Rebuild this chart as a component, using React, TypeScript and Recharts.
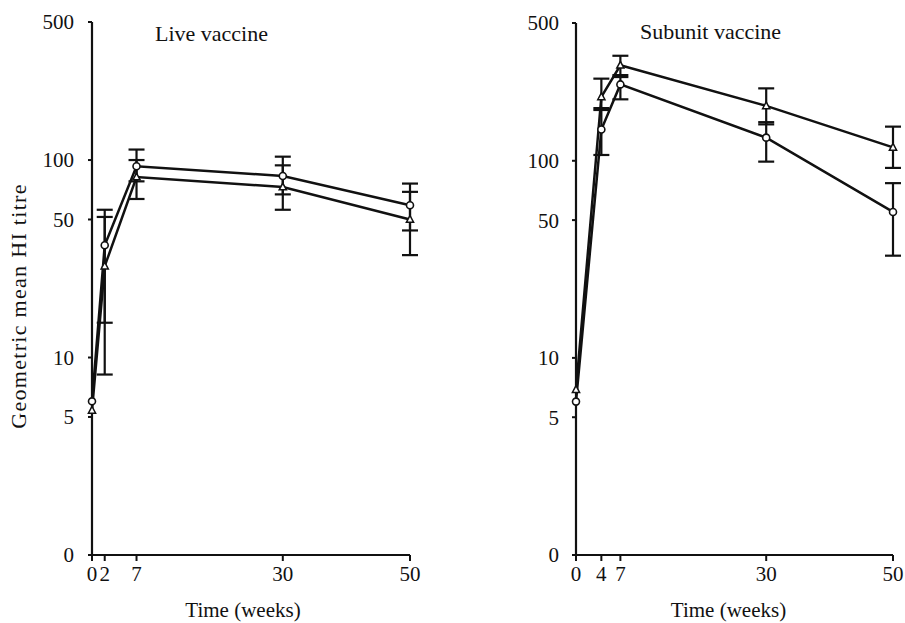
import { LineChart, Line, XAxis, YAxis, ErrorBar } from "recharts";

const INK = "#111";
const FONT = "'Liberation Serif', 'DejaVu Serif', serif";

// y values are titres on a log scale; the bottom tick (1) is printed as "0"
const Y_TICKS = [1, 5, 10, 50, 100, 500];

// Live vaccine panel
const LIVE_WEEKS = [0, 2, 7, 30, 50];
const LIVE_CIRCLE_MEAN = [6, 37, 93, 83, 59];
const LIVE_CIRCLE_LO = [null, 15, 78, 67, 44];
const LIVE_CIRCLE_HI = [null, 56, 113, 104, 76];
const LIVE_TRI_MEAN = [5.4, 29, 82, 73, 50];
const LIVE_TRI_LO = [null, 8.2, 63.5, 56, 33];
const LIVE_TRI_HI = [null, 51.5, 100, 94, 69];

// Subunit vaccine panel
const SUB_WEEKS = [0, 4, 7, 30, 50];
const SUB_TRI_MEAN = [6.9, 211, 305, 190, 117];
const SUB_TRI_LO = [null, 181, 266, 153, 92];
const SUB_TRI_HI = [null, 261, 341, 233, 149];
const SUB_CIRCLE_MEAN = [6.0, 144, 244, 131, 55];
const SUB_CIRCLE_LO = [null, 107, 205, 99, 33];
const SUB_CIRCLE_HI = [null, 185, 272, 157, 77];

type Row = { week: number; circ: number; circErr: number[] | null; tri: number; triErr: number[] | null };

const err = (m: number, lo: number | null, hi: number | null) =>
  lo == null || hi == null ? null : [m - lo, hi - m];

function build(
  weeks: number[],
  cm: number[], cl: (number | null)[], ch: (number | null)[],
  tm: number[], tl: (number | null)[], th: (number | null)[],
): Row[] {
  return weeks.map((w, i) => ({
    week: w,
    circ: cm[i],
    circErr: err(cm[i], cl[i], ch[i]),
    tri: tm[i],
    triErr: err(tm[i], tl[i], th[i]),
  }));
}

const liveData = build(LIVE_WEEKS, LIVE_CIRCLE_MEAN, LIVE_CIRCLE_LO, LIVE_CIRCLE_HI, LIVE_TRI_MEAN, LIVE_TRI_LO, LIVE_TRI_HI);
const subData = build(SUB_WEEKS, SUB_CIRCLE_MEAN, SUB_CIRCLE_LO, SUB_CIRCLE_HI, SUB_TRI_MEAN, SUB_TRI_LO, SUB_TRI_HI);

const circleDot = (p: any) => (
  <circle key={`c${p.index}`} cx={p.cx} cy={p.cy} r={3.5} fill="#fff" stroke={INK} strokeWidth={1.6} />
);
const triDot = (p: any) => (
  <path
    key={`t${p.index}`}
    d={`M${p.cx},${p.cy - 4} L${p.cx + 3.6},${p.cy + 2.8} L${p.cx - 3.6},${p.cy + 2.8} Z`}
    fill="#fff" stroke={INK} strokeWidth={1.5}
  />
);

const tickStyle = { fill: INK, fontSize: 21, fontFamily: FONT };

function Panel({ data, weeks, width, margin, yWidth, tickMargin, xLabelDx }: {
  data: Row[]; weeks: number[]; width: number;
  margin: { top: number; right: number; bottom: number; left: number };
  yWidth: number; tickMargin: number; xLabelDx: number;
}) {
  return (
    <LineChart width={width} height={623} data={data} margin={margin}>
      <XAxis
        dataKey="week" type="number" domain={[0, 50]} ticks={weeks} interval={0}
        stroke={INK} strokeWidth={2.2} tickSize={6} tickMargin={5} height={68}
        tick={tickStyle} tickLine={{ stroke: INK, strokeWidth: 2 }}
        label={{ value: "Time (weeks)", position: "insideBottom", offset: 6, dx: xLabelDx, fill: INK, fontSize: 21, fontFamily: FONT }}
      />
      <YAxis
        type="number" scale="log" domain={[1, 500]} ticks={Y_TICKS} allowDataOverflow interval={0}
        width={yWidth} stroke={INK} strokeWidth={2.2} tickSize={4} tickMargin={tickMargin}
        tick={tickStyle} tickLine={{ stroke: INK, strokeWidth: 2 }}
        tickFormatter={(v: number) => (v === 1 ? "0" : String(v))}
      />
      <Line dataKey="circ" stroke={INK} strokeWidth={2.5} dot={circleDot} isAnimationActive={false}>
        <ErrorBar dataKey="circErr" direction="y" width={8} stroke={INK} strokeWidth={2.2} isAnimationActive={false} />
      </Line>
      <Line dataKey="tri" stroke={INK} strokeWidth={2.5} dot={triDot} isAnimationActive={false}>
        <ErrorBar dataKey="triErr" direction="y" width={8} stroke={INK} strokeWidth={2.2} isAnimationActive={false} />
      </Line>
    </LineChart>
  );
}

export default function App() {
  return (
    <div style={{ position: "absolute", left: 0, top: 0, width: 905, height: 623, background: "#fff" }}>
      <div style={{ position: "absolute", left: 0, top: 0 }}>
        <Panel data={liveData} weeks={LIVE_WEEKS} width={450}
          margin={{ top: 22, right: 40, bottom: 0, left: 0 }} yWidth={92} tickMargin={14} xLabelDx={-8} />
      </div>
      <div style={{ position: "absolute", left: 450, top: 0 }}>
        <Panel data={subData} weeks={SUB_WEEKS} width={455}
          margin={{ top: 23, right: 12, bottom: 0, left: 0 }} yWidth={126} tickMargin={13} xLabelDx={-6} />
      </div>
      <svg width={905} height={623} style={{ position: "absolute", left: 0, top: 0, pointerEvents: "none" }}>
        <text x={155} y={41} fill={INK} fontSize={22} fontFamily={FONT}>Live vaccine</text>
        <text x={640} y={39} fill={INK} fontSize={22} fontFamily={FONT}>Subunit vaccine</text>
        <text x={18} y={306} fill={INK} fontSize={22} fontFamily={FONT} textAnchor="middle"
          dominantBaseline="central" letterSpacing={1.3} transform="rotate(-90 18 306)">
          Geometric mean HI titre
        </text>
      </svg>
    </div>
  );
}
